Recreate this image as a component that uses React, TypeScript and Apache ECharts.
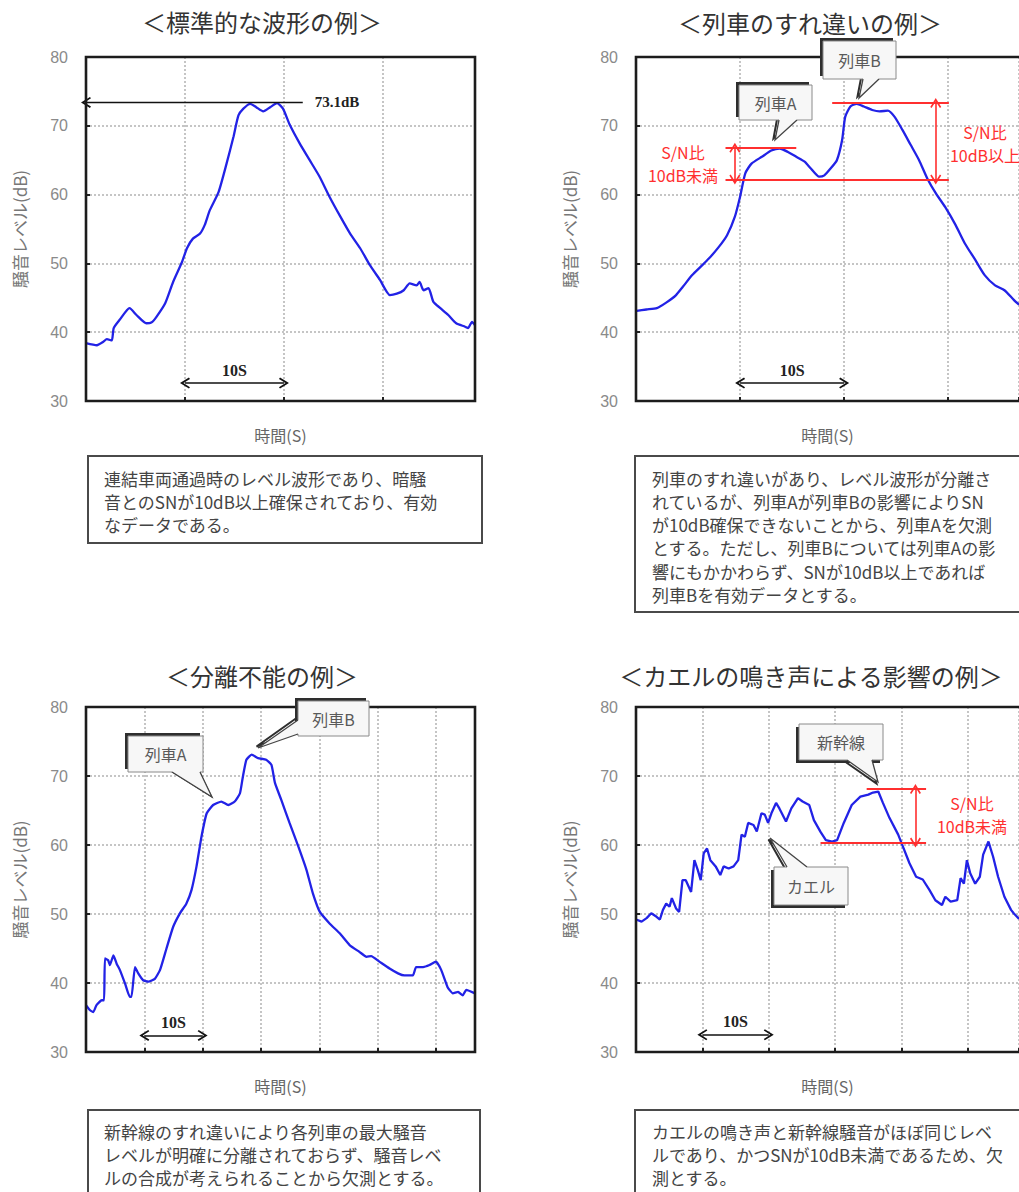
import React, { useEffect, useRef } from "react";
import * as echarts from "echarts";

// ---------- text ----------
const TITLES = ["＜標準的な波形の例＞", "＜列車のすれ違いの例＞", "＜分離不能の例＞", "＜カエルの鳴き声による影響の例＞"];
const Y_NAME = "騒音レベル(dB)";
const X_NAME = "時間(S)";
const NOTE_1 = ["連結車両通過時のレベル波形であり、暗騒", "音とのSNが10dB以上確保されており、有効", "なデータである。"];
const NOTE_2 = [
  "列車のすれ違いがあり、レベル波形が分離さ",
  "れているが、列車Aが列車Bの影響によりSN",
  "が10dB確保できないことから、列車Aを欠測",
  "とする。ただし、列車Bについては列車Aの影",
  "響にもかかわらず、SNが10dB以上であれば",
  "列車Bを有効データとする。",
];
const NOTE_3 = ["新幹線のすれ違いにより各列車の最大騒音", "レベルが明確に分離されておらず、騒音レベ", "ルの合成が考えられることから欠測とする。"];
const NOTE_4 = ["カエルの鳴き声と新幹線騒音がほぼ同じレベ", "ルであり、かつSNが10dB未満であるため、欠", "測とする。"];

// ---------- axes ----------
const Y_MIN = 30;
const Y_MAX = 80;
const Y_STEP = 10;
const X_STEP = 10;
const X_MAX = [39.3, 36.8, 66.7, 57.7];

// ---------- chart 1: standard waveform ----------
const STD_T = [0, 1.1, 1.75, 2.1, 2.6, 2.8, 3.4, 4.4, 5.1, 6.1, 6.6, 7.1, 8.0, 8.8, 9.7, 10.2, 10.8, 11.5, 12.0, 12.5, 13.4, 14.2, 14.9, 15.4, 15.9, 16.6, 17.2, 17.9, 18.6, 19.3, 19.9, 20.6, 21.6, 22.6, 23.6, 24.6, 25.7, 26.7, 27.7, 28.7, 29.7, 30.7, 31.4, 32.1, 32.7, 33.4, 33.7, 34.1, 34.6, 35.1, 35.8, 36.6, 37.4, 38.3, 38.6, 39.0, 39.3];
const STD_V = [38.4, 38.1, 38.6, 39.0, 38.8, 40.6, 41.8, 43.5, 42.5, 41.3, 41.4, 42.2, 44.2, 47.3, 50.2, 52.2, 53.6, 54.3, 55.6, 57.7, 60.4, 64.5, 68.4, 71.5, 72.5, 73.2, 72.7, 72.1, 72.7, 73.3, 72.5, 70.1, 67.4, 65.0, 62.6, 59.7, 56.8, 54.3, 52.2, 49.7, 47.6, 45.4, 45.6, 46.1, 47.1, 46.8, 47.3, 46.1, 46.4, 44.4, 43.5, 42.5, 41.3, 40.8, 40.6, 41.5, 41.0];
const STD_PEAK = 73.4;
const STD_PEAK_LABEL = "73.1dB";

// ---------- chart 2: passing trains ----------
const PASS_T = [0.06, 1.0, 2.0, 2.9, 3.85, 4.5, 5.4, 6.2, 7.0, 7.96, 8.75, 9.5, 10.0, 10.5, 11.1, 12.1, 13.0, 13.8, 14.6, 15.4, 16.2, 16.8, 17.6, 18.1, 18.7, 19.3, 19.8, 20.1, 20.6, 21.2, 21.9, 22.7, 23.4, 24.2, 24.85, 25.6, 26.4, 27.2, 28.0, 28.8, 29.7, 30.7, 31.6, 32.6, 33.5, 34.5, 35.4, 36.3, 36.8];
const PASS_V = [43.1, 43.3, 43.5, 44.3, 45.4, 46.6, 48.3, 49.5, 50.7, 52.4, 54.1, 56.8, 59.7, 63.1, 64.5, 65.5, 66.4, 66.7, 66.2, 65.5, 64.8, 63.8, 62.6, 62.8, 63.8, 65.0, 67.9, 71.3, 72.8, 73.2, 72.8, 72.3, 72.1, 72.2, 71.3, 69.4, 67.2, 65.0, 62.3, 60.2, 58.2, 55.6, 52.9, 50.5, 48.3, 46.8, 46.1, 44.7, 44.0];
const PASS_PEAK_A = 66.8;
const PASS_PEAK_B = 73.3;
const PASS_DIP = 62.2;

// ---------- chart 3: inseparable ----------
const SEP_T = [0, 0.7, 1.26, 1.8, 2.7, 3.1, 3.25, 3.8, 4.1, 4.7, 5.25, 5.8, 6.7, 7.5, 7.8, 8.4, 8.96, 9.8, 10.7, 11.8, 12.7, 13.8, 14.95, 16.1, 17.2, 18.1, 18.95, 19.8, 20.7, 21.8, 23.2, 24.4, 25.5, 26.4, 26.9, 27.5, 28.4, 29.5, 30.9, 31.8, 32.4, 33.5, 34.9, 36.4, 37.8, 38.9, 40.1, 41.8, 43.5, 45.2, 46.9, 48.1, 48.9, 50.3, 52.05, 53.5, 54.6, 56.05, 56.6, 57.8, 58.9, 60.0, 60.9, 62.0, 62.9, 63.8, 64.6, 65.2, 66.7];
const SEP_V = [36.8, 36.05, 35.8, 36.8, 37.5, 37.5, 43.55, 43.3, 42.6, 44.0, 42.8, 41.9, 39.9, 38.0, 38.0, 42.3, 41.4, 40.4, 40.2, 40.6, 41.9, 45.0, 48.15, 50.1, 51.5, 53.5, 56.9, 61.2, 64.6, 65.8, 66.3, 65.8, 66.3, 67.5, 69.9, 72.35, 73.1, 72.6, 72.35, 71.6, 69.0, 66.5, 63.2, 59.8, 56.4, 53.0, 50.3, 48.6, 47.2, 45.5, 44.5, 43.8, 43.9, 43.1, 42.1, 41.4, 41.1, 41.1, 42.3, 42.3, 42.6, 43.1, 41.9, 39.4, 38.5, 38.7, 38.2, 39.0, 38.5];

// ---------- chart 4: frog calls ----------
const FROG_T = [0, 0.84, 1.6, 2.3, 3.1, 3.6, 4.06, 4.55, 5.05, 5.4, 6.04, 6.5, 7.0, 7.5, 8.3, 8.8, 9.3, 9.75, 10.2, 10.7, 11.2, 12.0, 12.7, 13.2, 13.96, 14.7, 15.4, 15.9, 16.4, 16.9, 17.7, 18.2, 18.9, 19.4, 19.9, 20.4, 21.1, 21.6, 22.6, 23.4, 24.4, 25.1, 26.1, 26.8, 27.8, 28.6, 29.55, 30.3, 31.3, 32.5, 33.8, 35.0, 35.7, 36.5, 37.2, 38.2, 39.5, 40.2, 41.2, 42.2, 43.2, 44.2, 45.1, 46.1, 46.6, 47.4, 48.4, 48.9, 49.4, 49.85, 50.35, 51.1, 51.8, 52.3, 53.1, 53.8, 54.55, 55.5, 56.5, 56.9, 57.7];
const FROG_V = [49.2, 48.9, 49.4, 50.1, 49.6, 49.2, 50.6, 51.5, 51.05, 52.3, 50.8, 50.3, 54.9, 54.9, 53.2, 57.8, 56.4, 54.9, 58.8, 59.5, 57.8, 56.9, 55.65, 56.9, 56.6, 56.9, 57.8, 61.5, 61.2, 63.2, 62.9, 61.95, 64.6, 64.4, 63.2, 64.6, 66.1, 65.3, 63.4, 65.3, 66.8, 66.3, 65.8, 63.6, 61.9, 60.7, 60.5, 60.7, 63.2, 65.8, 67.0, 67.3, 67.6, 67.75, 66.1, 63.9, 61.5, 59.8, 57.35, 55.4, 55.0, 53.5, 52.0, 51.3, 52.5, 51.8, 52.0, 55.2, 54.4, 57.8, 55.9, 54.4, 55.4, 58.6, 60.5, 58.3, 55.4, 52.5, 50.6, 50.1, 49.3];
const FROG_PEAK = 68.1;
const FROG_DIP = 60.35;

// ---------- layout ----------
const GRIDS = [
  { left: 86, top: 57, width: 389, height: 344 },
  { left: 636, top: 57, width: 389, height: 344 },
  { left: 86, top: 707, width: 389, height: 345 },
  { left: 636, top: 707, width: 389, height: 345 },
];
const TITLE_POS = [[262, 21], [810, 22], [262, 675], [811, 675]];

const JP = "'Noto Sans CJK JP', 'Noto Sans CJK SC', sans-serif";
const SERIF = "'Liberation Serif', 'DejaVu Serif', serif";
const BLUE = "#2222e6";
const RED = "#ff2f2f";
const CHEVRON = "path://M10,0 L20,17 L17.6,19 L10,6.5 L2.4,19 L0,17 Z";

const pairs = (t: number[], v: number[]) => t.map((x, i) => [x, v[i]]);

function seg(
  x1: number, y1: number, x2: number, y2: number, color: string, width: number,
  s1 = "none", s2 = "none", label: any = { show: false }
) {
  return [
    { coord: [x1, y1], symbol: s1, symbolSize: [11, 10], lineStyle: { color, width, type: "solid" }, label },
    { coord: [x2, y2], symbol: s2, symbolSize: [11, 10] },
  ];
}

const tenSecLabel = {
  show: true,
  position: "insideMiddleTop",
  distance: 5,
  formatter: "10S",
  color: "#222",
  fontFamily: SERIF,
  fontWeight: "bold",
  fontSize: 16,
};

function markLines(data: any[]) {
  return {
    silent: true,
    symbol: ["none", "none"],
    label: { show: false },
    emphasis: { disabled: true },
    data,
  };
}

function textBox(x: number, y: number, w: number, h: number, lines: string[], tx: number, ty: number, lh: number) {
  const els: any[] = [
    { type: "rect", shape: { x, y, width: w, height: h }, style: { fill: "#fff", stroke: "#4a4a4a", lineWidth: 2 }, z: 5, silent: true },
  ];
  lines.forEach((s, i) => {
    els.push({
      type: "text", x: tx, y: ty + i * lh, z: 6, silent: true,
      style: { text: s, fill: "#444", font: `17px ${JP}`, lineHeight: 18, align: "left", verticalAlign: "middle", textAlign: "left", textVerticalAlign: "middle" },
    });
  });
  return els;
}

function callout(
  box: { x: number; y: number; w: number; h: number }, b1: number[], tip: number[], b2: number[],
  inward: number[], shadow: number[], label: string
) {
  const inner1 = [b1[0] + inward[0], b1[1] + inward[1]];
  const inner2 = [b2[0] + inward[0], b2[1] + inward[1]];
  return [
    { type: "rect", shape: { x: box.x + shadow[0], y: box.y + shadow[1], width: box.w, height: box.h }, style: { fill: "#2e2e2e" }, z: 20, silent: true },
    { type: "polyline", shape: { points: [[b1[0] + shadow[0] * 0.6, b1[1] + shadow[1] * 0.6], [tip[0] + shadow[0] * 0.5, tip[1] + shadow[1] * 0.5], [b2[0] + shadow[0] * 0.6, b2[1] + shadow[1] * 0.6]] }, style: { stroke: "#2e2e2e", lineWidth: 2, fill: "none" }, z: 20, silent: true },
    { type: "rect", shape: { x: box.x, y: box.y, width: box.w, height: box.h }, style: { fill: "#f7f7f7", stroke: "#8a8a8a", lineWidth: 1 }, z: 21, silent: true },
    { type: "polygon", shape: { points: [inner1, b1, tip, b2, inner2] }, style: { fill: "#f7f7f7" }, z: 22, silent: true },
    { type: "polyline", shape: { points: [b1, tip, b2] }, style: { stroke: "#444", lineWidth: 1.3, fill: "none" }, z: 22, silent: true },
    {
      type: "text", x: box.x + box.w / 2, y: box.y + box.h / 2, z: 23, silent: true,
      style: { text: label, fill: "#5a5a5a", font: `16px ${JP}`, align: "center", verticalAlign: "middle", textAlign: "center", textVerticalAlign: "middle" },
    },
  ];
}

function redText(x: number, y: number, s: string) {
  return {
    type: "text", x, y, z: 15, silent: true,
    style: { text: s, fill: RED, font: `16px ${JP}`, lineHeight: 17, align: "center", verticalAlign: "middle", textAlign: "center", textVerticalAlign: "middle" },
  };
}

function buildOption() {
  const grid = GRIDS.map((g) => ({ ...g, containLabel: false }));
  const splitLine = { show: true, lineStyle: { color: "#b3b3b3", type: [2, 2], width: 1.5 } };
  const tick = { show: true, inside: true, length: 4, lineStyle: { color: "#222", width: 2 } };
  const nameStyle = { color: "#777", fontSize: 17, fontFamily: JP };

  const xAxis = GRIDS.map((_, i) => ({
    type: "value", gridIndex: i, min: 0, max: X_MAX[i], interval: X_STEP,
    name: X_NAME, nameLocation: "middle", nameGap: 26, nameTextStyle: { ...nameStyle, color: "#666", fontSize: 16 },
    axisLine: { show: false }, axisTick: tick, axisLabel: { show: false }, splitLine,
  }));
  const yAxis = GRIDS.map((_, i) => ({
    type: "value", gridIndex: i, min: Y_MIN, max: Y_MAX, interval: Y_STEP,
    name: Y_NAME, nameLocation: "middle", nameGap: 58, nameRotate: 90, nameTextStyle: nameStyle,
    axisLine: { show: false }, axisTick: tick,
    axisLabel: { color: "#8a8a8a", fontSize: 16, fontFamily: "'Liberation Sans', Arial, sans-serif", margin: 18 },
    splitLine,
  }));

  const lineSeries = (i: number, data: number[][], ml: any[], smooth: number) => ({
    type: "line", xAxisIndex: i, yAxisIndex: i, data, showSymbol: false, symbol: "none", smooth,
    lineStyle: { color: BLUE, width: 2.3 }, itemStyle: { color: BLUE }, clip: true, silent: true,
    markLine: markLines(ml),
  });

  const series = [
    lineSeries(0, pairs(STD_T, STD_V), [
      seg(0, STD_PEAK, 21.9, STD_PEAK, "#111", 1.3, CHEVRON, "none", {
        show: true, position: "end", distance: 12, formatter: STD_PEAK_LABEL, color: "#222",
        fontFamily: SERIF, fontWeight: "bold", fontSize: 15,
      }),
      seg(10, 32.6, 20, 32.6, "#111", 1.5, CHEVRON, CHEVRON, tenSecLabel),
    ], 0.2),
    lineSeries(1, pairs(PASS_T, PASS_V), [
      seg(18.85, PASS_PEAK_B, 30.06, PASS_PEAK_B, RED, 2),
      seg(8.6, PASS_PEAK_A, 15.4, PASS_PEAK_A, RED, 2),
      seg(8.6, PASS_DIP, 30.06, PASS_DIP, RED, 2),
      seg(9.5, PASS_DIP, 9.5, PASS_PEAK_A, RED, 1.6, CHEVRON, CHEVRON),
      seg(28.8, PASS_DIP, 28.8, PASS_PEAK_B, RED, 1.6, CHEVRON, CHEVRON),
      seg(10, 32.6, 20, 32.6, "#111", 1.5, CHEVRON, CHEVRON, tenSecLabel),
    ], 0.2),
    lineSeries(2, pairs(SEP_T, SEP_V), [
      seg(10, 32.4, 20, 32.4, "#111", 1.5, CHEVRON, CHEVRON, tenSecLabel),
    ], 0.15),
    lineSeries(3, pairs(FROG_T, FROG_V), [
      seg(34.75, FROG_PEAK, 43.7, FROG_PEAK, RED, 2),
      seg(27.8, FROG_DIP, 43.7, FROG_DIP, RED, 2),
      seg(42.1, FROG_DIP, 42.1, FROG_PEAK, RED, 1.6, CHEVRON, CHEVRON),
      seg(10, 32.5, 20, 32.5, "#111", 1.5, CHEVRON, CHEVRON, tenSecLabel),
    ], 0),
  ];

  const graphic: any[] = [];
  TITLES.forEach((t, i) => {
    graphic.push({
      type: "text", x: TITLE_POS[i][0], y: TITLE_POS[i][1], silent: true,
      style: { text: t, fill: "#333", font: `24px ${JP}`, align: "center", verticalAlign: "middle", textAlign: "center", textVerticalAlign: "middle" },
    });
  });
  GRIDS.forEach((g) => {
    graphic.push({
      type: "rect", shape: { x: g.left, y: g.top, width: g.width, height: g.height }, z: 10, silent: true,
      style: { fill: "none", stroke: "#1c1c1c", lineWidth: 2.6 },
    });
  });
  graphic.push(...textBox(88, 456, 394, 87, NOTE_1, 104, 478, 23));
  graphic.push(...textBox(635, 456, 400, 156, NOTE_2, 652, 478, 23.3));
  graphic.push(...textBox(88, 1110, 392, 100, NOTE_3, 104, 1131, 23));
  graphic.push(...textBox(635, 1110, 400, 100, NOTE_4, 652, 1131, 23));

  graphic.push(redText(683, 152, "S/N比"), redText(683, 175, "10dB未満"));
  graphic.push(redText(985, 132, "S/N比"), redText(985, 155, "10dB以上"));
  graphic.push(redText(972, 803, "S/N比"), redText(972, 826, "10dB未満"));

  graphic.push(...callout({ x: 739, y: 85, w: 73, h: 35 }, [779, 120], [775, 140], [797, 120], [0, -2], [-3, -3], "列車A"));
  graphic.push(...callout({ x: 823, y: 41, w: 73, h: 38 }, [863, 79], [859, 98], [879, 79], [0, -2], [-3, -3], "列車B"));
  graphic.push(...callout({ x: 128, y: 736, w: 75, h: 36 }, [172, 772], [212, 797], [200, 772], [0, -2], [-3, -3], "列車A"));
  graphic.push(...callout({ x: 298, y: 701, w: 71, h: 35 }, [298, 720], [258, 748], [298, 734], [2, 0], [-3, -3], "列車B"));
  graphic.push(...callout({ x: 799, y: 724, w: 84, h: 36 }, [847, 760], [878, 782], [872, 760], [0, -2], [-3, 3], "新幹線"));
  graphic.push(...callout({ x: 774, y: 867, w: 74, h: 38 }, [787, 867], [770, 838], [807, 867], [0, 2], [-3, 3], "カエル"));

  return {
    animation: false,
    backgroundColor: "#ffffff",
    grid,
    xAxis,
    yAxis,
    series,
    graphic: { elements: graphic },
  };
}

export default function App() {
  const ref = useRef<HTMLDivElement>(null);
  useEffect(() => {
    if (!ref.current) return;
    const chart = echarts.init(ref.current, undefined, { renderer: "svg" });
    chart.setOption(buildOption() as any);
    return () => chart.dispose();
  }, []);
  return (
    <div
      ref={ref}
      style={{ position: "absolute", left: 0, top: 0, width: 1019, height: 1192, background: "#fff" }}
    />
  );
}
